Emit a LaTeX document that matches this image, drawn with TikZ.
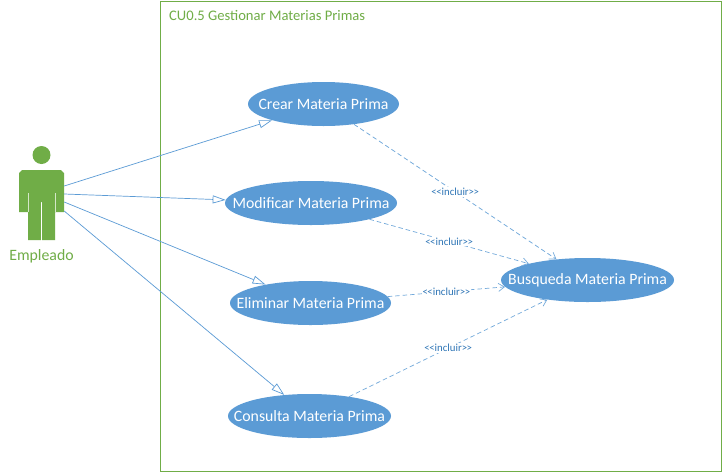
\documentclass[tikz,border=0pt]{standalone}
\usepackage{fontspec}
\setmainfont{Carlito}
\usetikzlibrary{shapes.geometric,arrows.meta}
\definecolor{ucblue}{HTML}{5B9BD5}
\definecolor{ucgreen}{HTML}{70AD47}
\definecolor{lblblue}{HTML}{2E75B6}
\tikzset{
  usecase/.style={ellipse,fill=ucblue,text=white,inner sep=0pt,font=\fontsize{15.8}{18}\selectfont},
  assoc/.style={draw=ucblue,line width=0.7pt,-{Triangle[open,length=13pt,width=8pt,fill=white]}},
  incl/.style={draw=ucblue!85,line width=0.7pt,dash pattern=on 4.5pt off 3pt,-{Straight Barb[length=6pt,width=8pt]}},
  incllabel/.style={fill=white,text=lblblue,inner xsep=0.5pt,inner ysep=1pt,font=\fontsize{10.8}{12}\selectfont},
  anchorbox/.style={inner sep=0pt,minimum width=45pt,minimum height=70pt}
}
\newcommand{\incltext}{{<}\kern-0.5pt{<}incluir{>}\kern-0.5pt{>}}
\newcommand{\uctext}[1]{\raisebox{-0.6pt}{\makebox[0pt][c]{#1}}}
\begin{document}
\begin{tikzpicture}[x=1pt,y=-1pt]
\useasboundingbox (0,0) rectangle (727,472);
\fill[white] (0,0) rectangle (727,472);
% system boundary
\node[draw=ucgreen,line width=0.9pt,minimum width=561pt,minimum height=470pt,inner sep=0pt] (frame) at (440.5,236) {};
\node[anchor=west,text=ucgreen,inner sep=0pt,font=\fontsize{14.6}{17}\selectfont] (title) at (169,15.8) {CU0.5 Gestionar Materias Primas};
% actor
\fill[ucgreen] (41.5,155) circle (9);
\fill[ucgreen] (22,170) -- (61,170) -- (64,173) -- (64,212) -- (55,212) -- (55,240) -- (42.2,240) -- (42.2,202) -- (40.8,202) -- (40.8,240) -- (28,240) -- (28,212) -- (19,212) -- (19,173) -- cycle;
\draw[white!70!ucgreen,line width=0.8pt] (28,193) -- (28,212) (55,193) -- (55,212);
\node[anchor=center,anchorbox] (actor) at (41.5,205) {};
\node[text=ucgreen,inner sep=0pt,font=\fontsize{15.8}{18}\selectfont] (actorname) at (41.5,255.8) {Empleado};
% use cases
\path
 coordinate (crearc) at (323.5,104)
 coordinate (modc) at (311,203)
 coordinate (elimc) at (310.5,303)
 coordinate (consc) at (309.5,416)
 coordinate (buscc) at (587.5,280);
\node[usecase,minimum width=151pt,minimum height=44pt] (crear) at (crearc) {\uctext{Crear Materia Prima}};
\node[usecase,minimum width=172pt,minimum height=44pt] (mod) at (modc) {\uctext{Modificar Materia Prima}};
\node[usecase,minimum width=161pt,minimum height=44pt] (elim) at (elimc) {\uctext{Eliminar Materia Prima}};
\node[usecase,minimum width=163pt,minimum height=44pt] (cons) at (consc) {\uctext{Consulta Materia Prima}};
\node[usecase,minimum width=173pt,minimum height=44pt] (busc) at (buscc) {\uctext{Busqueda Materia Prima}};
% associations
\coordinate (a1) at ([yshift=19pt]actor.east);
\coordinate (a2) at ([yshift=11pt]actor.east);
\coordinate (a3) at ([yshift=3pt]actor.east);
\coordinate (a4) at ([yshift=-6pt]actor.east);
\draw[assoc] (a1) -- (crear);
\draw[assoc] (a2) -- (mod);
\draw[assoc] (a3) -- (elim);
\draw[assoc] (a4) -- (cons);
% includes
\draw[incl] (crear) -- (busc) node[incllabel,pos=0.5] (l1) {\incltext};
\draw[incl] (mod) -- (busc) node[incllabel,pos=0.5] (l2) {\incltext};
\draw[incl] (elim) -- (busc) node[incllabel,pos=0.5] (l3) {\incltext};
\draw[incl] (cons) -- (busc) node[incllabel,pos=0.5] (l4) {\incltext};
\end{tikzpicture}
\end{document}
